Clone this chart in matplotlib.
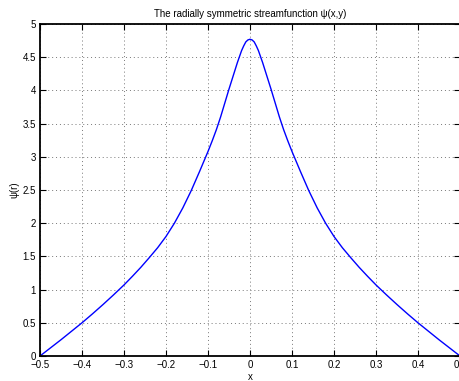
import numpy as np
import matplotlib.pyplot as plt

plt.rcParams['font.family'] = ['Liberation Sans', 'DejaVu Sans']
plt.rcParams['font.size'] = 7

# half profile of psi(r), r >= 0 (the curve is symmetric about x = 0)
r_half = [0.0, 0.005, 0.01, 0.015, 0.02, 0.03, 0.04, 0.05, 0.06, 0.07, 0.08,
          0.09, 0.10, 0.12, 0.14, 0.16, 0.18, 0.20, 0.22, 0.24, 0.26, 0.28,
          0.30, 0.325, 0.35, 0.375, 0.40, 0.45, 0.50]
psi_half = [4.77, 4.76, 4.73, 4.67, 4.60, 4.42, 4.22, 4.02, 3.81, 3.60, 3.41,
            3.24, 3.08, 2.78, 2.49, 2.23, 2.00, 1.80, 1.63, 1.48, 1.335, 1.20,
            1.07, 0.92, 0.775, 0.635, 0.50, 0.245, 0.0]

x = np.concatenate([-np.array(r_half[::-1]), np.array(r_half[1:])])
psi = np.concatenate([np.array(psi_half[::-1]), np.array(psi_half[1:])])

xticks = [-0.5, -0.4, -0.3, -0.2, -0.1, 0, 0.1, 0.2, 0.3, 0.4, 0.5]
xticklabels = ['\u22120.5', '\u22120.4', '\u22120.3', '\u22120.2', '\u22120.1',
               '0', '0.1', '0.2', '0.3', '0.4', '0.5']
yticks = [0, 0.5, 1, 1.5, 2, 2.5, 3, 3.5, 4, 4.5, 5]
yticklabels = ['0', '0.5', '1', '1.5', '2', '2.5', '3', '3.5', '4', '4.5', '5']

fig = plt.figure(figsize=(4.59, 3.81), dpi=100)
ax = fig.add_axes([40 / 459, 25 / 381, 420 / 459, 332 / 381])

ax.plot(x, psi, color='#0000ff', lw=1.0)

ax.set_xlim(-0.5, 0.5)
ax.set_ylim(0, 5)
ax.set_xticks(xticks)
ax.set_xticklabels(xticklabels)
ax.set_yticks(yticks)
ax.set_yticklabels(yticklabels)
ax.tick_params(direction='in', length=4, width=0.8, top=True, right=True,
               pad=3, colors='black')
ax.grid(True, ls=(0, (1, 3)), color='#777777', lw=0.7)
for s in ax.spines.values():
    s.set_linewidth(1.3)

ax.set_title('The radially symmetric streamfunction \u03c8(x,y)', fontsize=7, pad=5)
ax.set_xlabel('x', labelpad=1)
ax.set_ylabel('\u03c8(r)', labelpad=2)

fig.savefig('out.png', dpi=100)
